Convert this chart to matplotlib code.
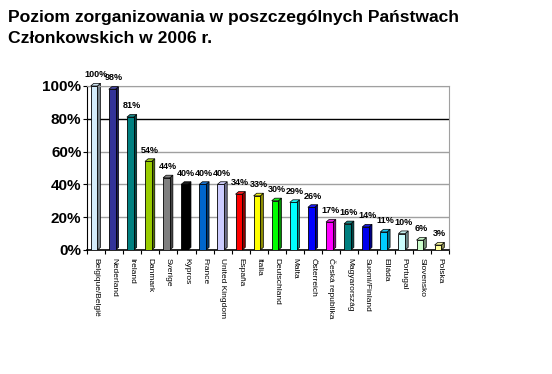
import matplotlib
matplotlib.use("Agg")
import matplotlib.pyplot as plt
from matplotlib.patches import Polygon
from matplotlib.ticker import FixedLocator
import matplotlib.colors as mcolors

plt.rcParams['font.family'] = ['Liberation Sans', 'DejaVu Sans']

title = "Poziom zorganizowania w poszczególnych Państwach\nCzłonkowskich w 2006 r."
countries = ["Belgique/België", "Nederland", "Ireland", "Danmark", "Sverige",
             "Kypros", "France", "United Kingdom", "España", "Italia",
             "Deutschland", "Malta", "Österreich", "Česká republika",
             "Magyarország", "Suomi/Finland", "Elláda", "Portugal",
             "Slovensko", "Polska"]
values = [100, 98, 81, 54, 44, 40, 40, 40, 34, 33, 30, 29, 26, 17, 16, 14, 11, 10, 6, 3]
colors = ["#d4ecfa", "#333399", "#008080", "#99cc00", "#808080", "#000000",
          "#0066cc", "#ccccff", "#ff0000", "#ffff00", "#00ff00", "#00ffff",
          "#0000ff", "#ff00ff", "#008080", "#0000ee", "#00ccff", "#ccffff",
          "#ccffcc", "#ffff99"]
yticks = [0, 20, 40, 60, 80, 100]

fig = plt.figure(figsize=(5.52, 3.74), dpi=100)
fig.patch.set_facecolor("white")
ax = fig.add_axes([0.1576, 0.3316, 0.6558, 0.4385])

n = len(countries)
xs = [i - 0.11 for i in range(n)]
w = 0.37
dx, dy = 0.17, 1.6

# gridlines
for yv in yticks[1:]:
    ax.axhline(yv, color="black" if yv == 80 else "#a0a0a0", lw=1.0, zorder=0)

bars = ax.bar(xs, values, width=w, color=colors, edgecolor="black", linewidth=0.6, zorder=3)
for b, c in zip(bars, colors):
    x0 = b.get_x(); x1 = x0 + b.get_width(); h = b.get_height()
    rgb = mcolors.to_rgb(c)
    dark = tuple(v * 0.55 for v in rgb)
    light = tuple(min(1, v * 0.85 + 0.1) for v in rgb)
    side = Polygon([(x1, 0), (x1 + dx, dy), (x1 + dx, h + dy), (x1, h)],
                   closed=True, facecolor=dark, edgecolor="black", lw=0.5, zorder=2,
                   clip_on=False)
    top = Polygon([(x0, h), (x0 + dx, h + dy), (x1 + dx, h + dy), (x1, h)],
                  closed=True, facecolor=light, edgecolor="black", lw=0.5, zorder=4,
                  clip_on=False)
    ax.add_patch(side); ax.add_patch(top)

for x, v in zip(xs, values):
    ax.annotate(f"{v}%", (x + dx / 2, v + dy), xytext=(0, 3), textcoords="offset points",
                ha="center", va="bottom", fontsize=6.5, fontweight="bold", zorder=5,
                annotation_clip=False)

ax.set_xlim(-0.5, n - 0.5)
ax.set_ylim(0, 100)
ax.set_yticks(yticks)
ax.set_yticklabels([f"{v}%" for v in yticks], fontsize=11, fontweight="bold")
ax.xaxis.set_major_locator(FixedLocator(range(n)))
ax.set_xticklabels(countries, rotation=-90, fontsize=6, ha="center", va="top")
ax.xaxis.set_minor_locator(FixedLocator([i - 0.5 for i in range(n + 1)]))
ax.tick_params(axis="x", which="major", length=0, pad=6)
ax.tick_params(axis="x", which="minor", length=3, width=0.8, color="black")
ax.tick_params(axis="y", length=3, width=0.8, pad=1)

for s in ["top", "right"]:
    ax.spines[s].set_color("#a0a0a0")
ax.spines["left"].set_color("black")
ax.spines["bottom"].set_color("black")
ax.spines["bottom"].set_linewidth(1.2)
ax.set_facecolor("white")

fig.text(0.014, 0.972, title, ha="left", va="top", fontsize=12.6, fontweight="bold",
         linespacing=1.5)

fig.savefig("out.png", dpi=100)
